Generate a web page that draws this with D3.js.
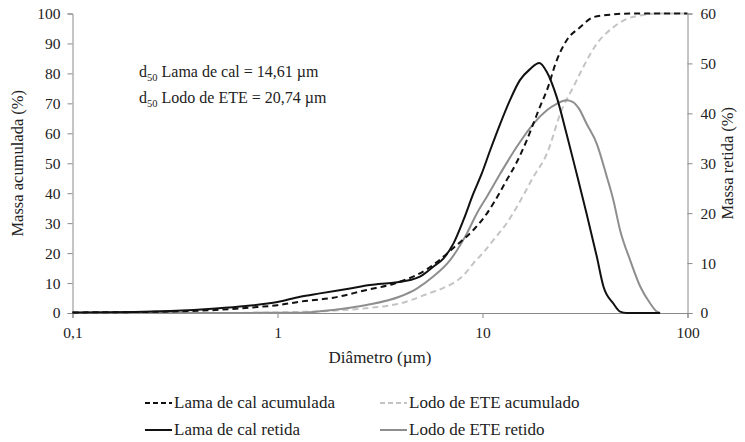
<!DOCTYPE html>
<html><head><meta charset="utf-8">
<script src="https://cdn.jsdelivr.net/npm/d3@7/dist/d3.min.js"></script>
<style>body{margin:0;background:#fff}svg{display:block}text{font-family:"Liberation Serif","Times New Roman",serif;fill:#222}</style>
</head><body><svg id="c" width="745" height="442"></svg>
<script>
// diameter (µm) and values
const lamaAcumD = [0.1,0.2,0.3,0.5,0.8,1.0,1.29,1.87,2.72,3.67,5.35,7.49,9.02,10.5,12.2,13.1,14.6,16.4,17.7,19.1,20.6,23.0,25.7,29.9,34.8,40.4,54.4,100];
const lamaAcumV = [0.2,0.3,0.5,1.0,2.0,2.6,3.8,5.1,7.7,9.7,14.6,22.7,27.7,33.2,40.5,44.3,50,57.5,63.2,69,74.3,84.3,91,95.4,98.8,99.5,100,100];
const lodoAcumD = [0.1,0.5,1.0,1.5,2.0,2.72,3.96,5.75,6.21,8.38,9.02,10.1,11.5,13.1,14.7,17.7,20.7,24.3,27.7,31.0,36.1,43.5,50.5,58.6,73.5,100];
const lodoAcumV = [0,0,0.2,0.5,0.9,1.6,3.2,7.1,7.9,13.8,16.6,20.2,25,29.9,35.4,45.4,53.5,67.7,75.4,82.1,89.9,95.4,98.2,99.3,100,100];
const lamaRetD = [0.1,0.2,0.3,0.5,0.7,1.0,1.29,1.61,2.26,2.83,3.67,4.43,4.95,5.75,6.44,7.21,8.07,9.02,9.91,10.9,12.2,13.6,15.2,17.1,18.9,20.6,23.0,25.7,28.8,32.2,36.1,38.9,43.5,46.9,50.5,73.5];
const lamaRetV = [0.1,0.2,0.4,0.9,1.4,2.2,3.27,3.93,4.93,5.6,6.07,6.6,7.27,9.27,10.9,13.9,18.6,23.9,27.9,32.6,37.9,42.6,46.6,48.9,50.1,48.3,43.3,35.9,27.9,19.9,11.3,5.3,1.9,0.27,0,0];
const lodoRetD = [0.1,0.5,1.0,1.29,1.87,2.72,3.96,4.78,5.75,6.95,8.38,9.37,10.5,12.2,14.7,17.7,20.6,23.0,25.7,27.5,29.5,32.2,36.1,40.4,43.5,46.9,52.5,58.8,65.8,70.9,73.5];
const lodoRetV = [0,0,0.05,0.07,0.6,1.6,3.3,4.9,7.3,10.6,15.9,19.9,23.3,27.9,33.3,37.9,40.6,41.9,42.6,42.3,41.0,37.9,33.9,27.3,22.6,16.6,10.6,5.3,1.9,0.27,0];
const xTicks = [0.1,1,10,100];
const xTickLabels = ["0,1","1","10","100"];
const yLeftTicks = [0,10,20,30,40,50,60,70,80,90,100];
const yRightTicks = [0,10,20,30,40,50,60];
const legendNames = ["Lama de cal acumulada","Lodo de ETE acumulado","Lama de cal retida","Lodo de ETE retido"];

const svg = d3.select("#c");
const L=72.5, R=687.5, T=13.5, B=313;
const x = d3.scaleLog().domain([0.1,100]).range([L,R]);
const yL = d3.scaleLinear().domain([0,100]).range([B,T]);
const yR = d3.scaleLinear().domain([0,60]).range([B,T]);
const axisColor="#8a8a8a";
const FONT="'Liberation Serif','Times New Roman',serif";

function styleAxis(g){
  g.attr("font-family",FONT);
  g.select(".domain").attr("stroke",axisColor);
  g.selectAll(".tick line").attr("stroke",axisColor);
  g.selectAll(".tick text").attr("font-size","15.5px").attr("fill","#222");
}
svg.append("g").attr("transform",`translate(0,${B})`)
  .call(d3.axisBottom(x).tickValues(xTicks).tickFormat((d,i)=>xTickLabels[i]).tickSizeOuter(0).tickSize(5).tickPadding(9))
  .call(styleAxis);
svg.append("g").attr("transform",`translate(${L},0)`)
  .call(d3.axisLeft(yL).tickValues(yLeftTicks).tickSizeOuter(0).tickSize(5).tickPadding(7))
  .call(styleAxis);
svg.append("g").attr("transform",`translate(${R},0)`)
  .call(d3.axisRight(yR).tickValues(yRightTicks).tickSizeOuter(0).tickSize(5).tickPadding(8))
  .call(styleAxis);

const mk = (ys)=>d3.line().x(d=>x(d[0])).y(d=>ys(d[1])).curve(d3.curveMonotoneX);
const zip=(a,b)=>a.map((v,i)=>[v,b[i]]);
const series = [
  {d:zip(lodoAcumD,lodoAcumV), s:yL, c:"#c4c4c4", dash:"6,4"},
  {d:zip(lodoRetD,lodoRetV), s:yR, c:"#8e8e8e", dash:null},
  {d:zip(lamaAcumD,lamaAcumV), s:yL, c:"#111", dash:"6,4"},
  {d:zip(lamaRetD,lamaRetV), s:yR, c:"#111", dash:null}
];
series.forEach(o=>{
  svg.append("path").datum(o.d).attr("d",mk(o.s)).attr("fill","none")
    .attr("stroke",o.c).attr("stroke-width",2).attr("stroke-dasharray",o.dash);
});

// axis titles
svg.append("text").attr("transform",`translate(23,${(T+B)/2}) rotate(-90)`).attr("text-anchor","middle").attr("font-size","16.5px").text("Massa acumulada (%)");
svg.append("text").attr("transform",`translate(733,${(T+B)/2}) rotate(-90)`).attr("text-anchor","middle").attr("font-size","16.5px").text("Massa retida (%)");
svg.append("text").attr("x",(L+R)/2).attr("y",363).attr("text-anchor","middle").attr("font-size","17px").text("Diâmetro (µm)");

// annotation
const ann=[["Lama de cal = 14,61 µm",77],["Lodo de ETE = 20,74 µm",103]];
ann.forEach(a=>{
  const t=svg.append("text").attr("x",139).attr("y",a[1]).attr("font-size","16px");
  t.append("tspan").text("d");
  t.append("tspan").attr("font-size","10.5px").attr("dy",4).text("50");
  t.append("tspan").attr("dy",-4).text(" "+a[0]);
});

// legend
const leg=[{x:145,y:403,c:"#111",dash:"5,3"},{x:380,y:403,c:"#c4c4c4",dash:"5,3"},{x:145,y:430,c:"#111",dash:null},{x:380,y:430,c:"#8e8e8e",dash:null}];
leg.forEach((l,i)=>{
  svg.append("line").attr("x1",l.x).attr("x2",l.x+27).attr("y1",l.y).attr("y2",l.y).attr("stroke",l.c).attr("stroke-width",2).attr("stroke-dasharray",l.dash);
  svg.append("text").attr("x",l.x+29).attr("y",l.y+5).attr("font-size","17px").text(legendNames[i]);
});
svg.selectAll("text").style("font-family",FONT);
</script></body></html>
